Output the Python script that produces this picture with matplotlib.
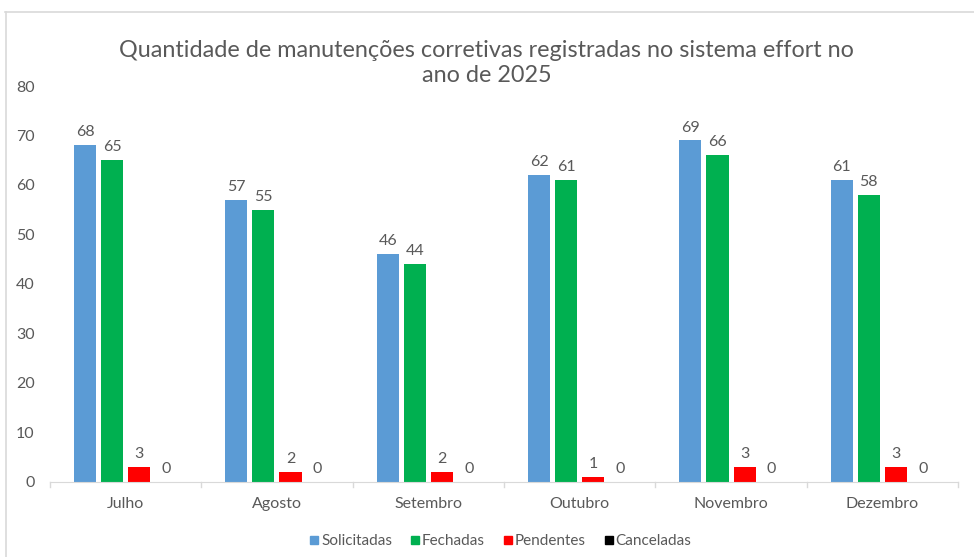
import numpy as np
import matplotlib.pyplot as plt
from matplotlib.lines import Line2D

plt.rcParams['font.family'] = ['Lato', 'DejaVu Sans']

meses = ["Julho", "Agosto", "Setembro", "Outubro", "Novembro", "Dezembro"]
solicitadas = [68, 57, 46, 62, 69, 61]
fechadas = [65, 55, 44, 61, 66, 58]
pendentes = [3, 2, 2, 1, 3, 3]
canceladas = [0, 0, 0, 0, 0, 0]

series = [
    ("Solicitadas", solicitadas, "#5B9BD5"),
    ("Fechadas", fechadas, "#00B050"),
    ("Pendentes", pendentes, "#FF0000"),
    ("Canceladas", canceladas, "#000000"),
]

TXT = "#595959"
GRID = "#D9D9D9"

fig = plt.figure(figsize=(9.74, 5.57), dpi=100)
ax = fig.add_axes([0.0513, 0.1347, 0.9323, 0.7109])

x = np.arange(len(meses))
width = 0.146
step = 0.179
for i, (name, vals, color) in enumerate(series):
    offs = (i - 1.5) * step
    bars = ax.bar(x + offs, vals, width, color=color, label=name)
    for b, v in zip(bars, vals):
        ax.text(b.get_x() + b.get_width() / 2, v + 1.2, str(v),
                ha="center", va="bottom", fontsize=11.5, color=TXT)

ax.set_xlim(-0.5, len(meses) - 0.5)
ax.set_ylim(0, 80)
ax.set_yticks(range(0, 81, 10))
ax.set_xticks(x)
ax.set_xticklabels(meses)
ax.tick_params(axis="x", length=0, pad=11, labelsize=11.5, labelcolor=TXT)
ax.tick_params(axis="y", length=0, pad=11, labelsize=11.5, labelcolor=TXT)
for s in ["top", "right", "left"]:
    ax.spines[s].set_visible(False)
ax.spines["bottom"].set_color(GRID)

# separator ticks between categories
for sep in np.arange(-0.5, len(meses), 1.0):
    ax.plot([sep, sep], [0, -1.1], color=GRID, lw=1, clip_on=False)

ax.set_title("Quantidade de manutenções corretivas registradas no sistema effort no\nano de 2025",
             fontsize=16.8, color=TXT, pad=1, linespacing=1.25, x=0.481)

handles = [Line2D([], [], marker="s", linestyle="", markersize=6,
                  markerfacecolor=c, markeredgecolor=c) for _, _, c in series]
fig.legend(handles, [n for n, _, _ in series], loc="center", bbox_to_anchor=(0.514, 0.028),
           ncol=4, frameon=False, fontsize=11, labelcolor=TXT,
           handletextpad=0.15, columnspacing=1.2, handlelength=0.6)

# chart frame lines (top and left)
fig.add_artist(Line2D([0.005, 1.0], [0.979, 0.979], color=GRID, lw=1.2))
fig.add_artist(Line2D([0.006, 0.006], [0.0, 0.979], color=GRID, lw=1.2))

fig.savefig("out.png", dpi=100, facecolor="white")
